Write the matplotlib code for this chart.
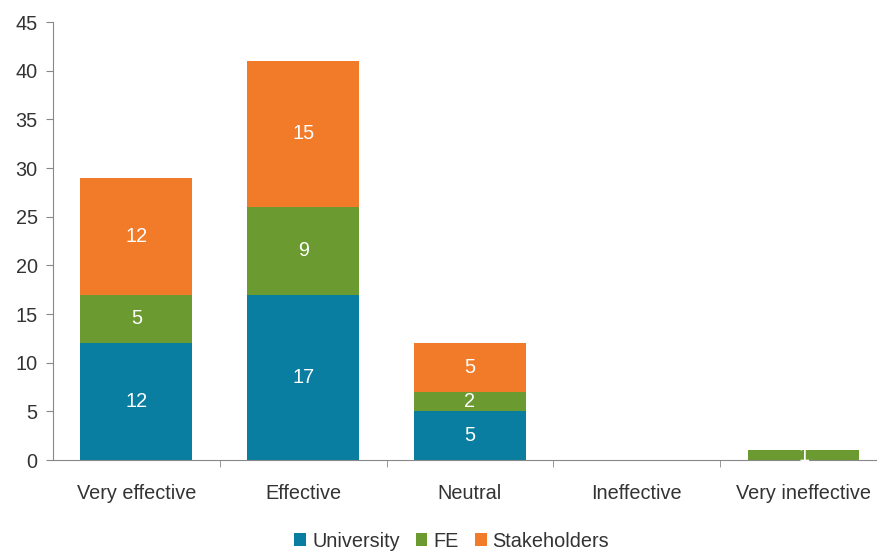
import matplotlib
matplotlib.use("Agg")
import matplotlib.pyplot as plt
import numpy as np

categories = ["Very effective", "Effective", "Neutral", "Ineffective", "Very ineffective"]
university = [12, 17, 5, 0, 0]
fe = [5, 9, 2, 0, 1]
stakeholders = [12, 15, 5, 0, 0]
series_names = ["University", "FE", "Stakeholders"]
colors = ["#0A7EA0", "#6B9B30", "#F27B2A"]

plt.rcParams['font.family'] = ['Liberation Sans', 'DejaVu Sans']
fig = plt.figure(figsize=(8.77, 5.51), dpi=100)
ax = fig.add_axes([0.0604, 0.165, 0.951, 0.795])

FS = 14.3
x = np.arange(len(categories))
w = 0.67
bottom = np.zeros(len(categories))
handles = []
for name, vals, c in zip(series_names, [university, fe, stakeholders], colors):
    vals = np.array(vals, dtype=float)
    b = ax.bar(x, vals, w, bottom=bottom, color=c, label=name, linewidth=0)
    handles.append(b)
    for xi, v, bt in zip(x, vals, bottom):
        if v > 0:
            ax.text(xi, bt + v / 2, f"{int(v)}", ha='center', va='center',
                    color='white', fontsize=FS)
    bottom += vals

ax.set_ylim(0, 45)
ax.set_yticks(range(0, 46, 5))
ax.set_xlim(-0.5, 4.5)
ax.set_xticks(x)
ax.set_xticklabels(categories, fontsize=FS)
ax.set_xticks(np.arange(0.5, 4.5, 1), minor=True)
ax.tick_params(axis='x', which='major', length=0, pad=17)
ax.tick_params(axis='x', which='minor', length=5, color='#888888', direction='out')
ax.tick_params(axis='y', labelsize=FS, length=5, color='#888888', direction='out', pad=6)
for s in ['top', 'right']:
    ax.spines[s].set_visible(False)
ax.spines['left'].set_color('#888888')
ax.spines['bottom'].set_color('#888888')
for lab in ax.get_xticklabels() + ax.get_yticklabels():
    lab.set_color('#333333')

leg = fig.legend(handles=handles, labels=series_names, loc='center', bbox_to_anchor=(0.515, 0.018),
           ncol=3, frameon=False, fontsize=FS, handlelength=0.6, handleheight=0.6,
           handletextpad=0.3, columnspacing=0.8)
for t in leg.get_texts():
    t.set_color('#333333')

fig.savefig("out.png", dpi=100)
